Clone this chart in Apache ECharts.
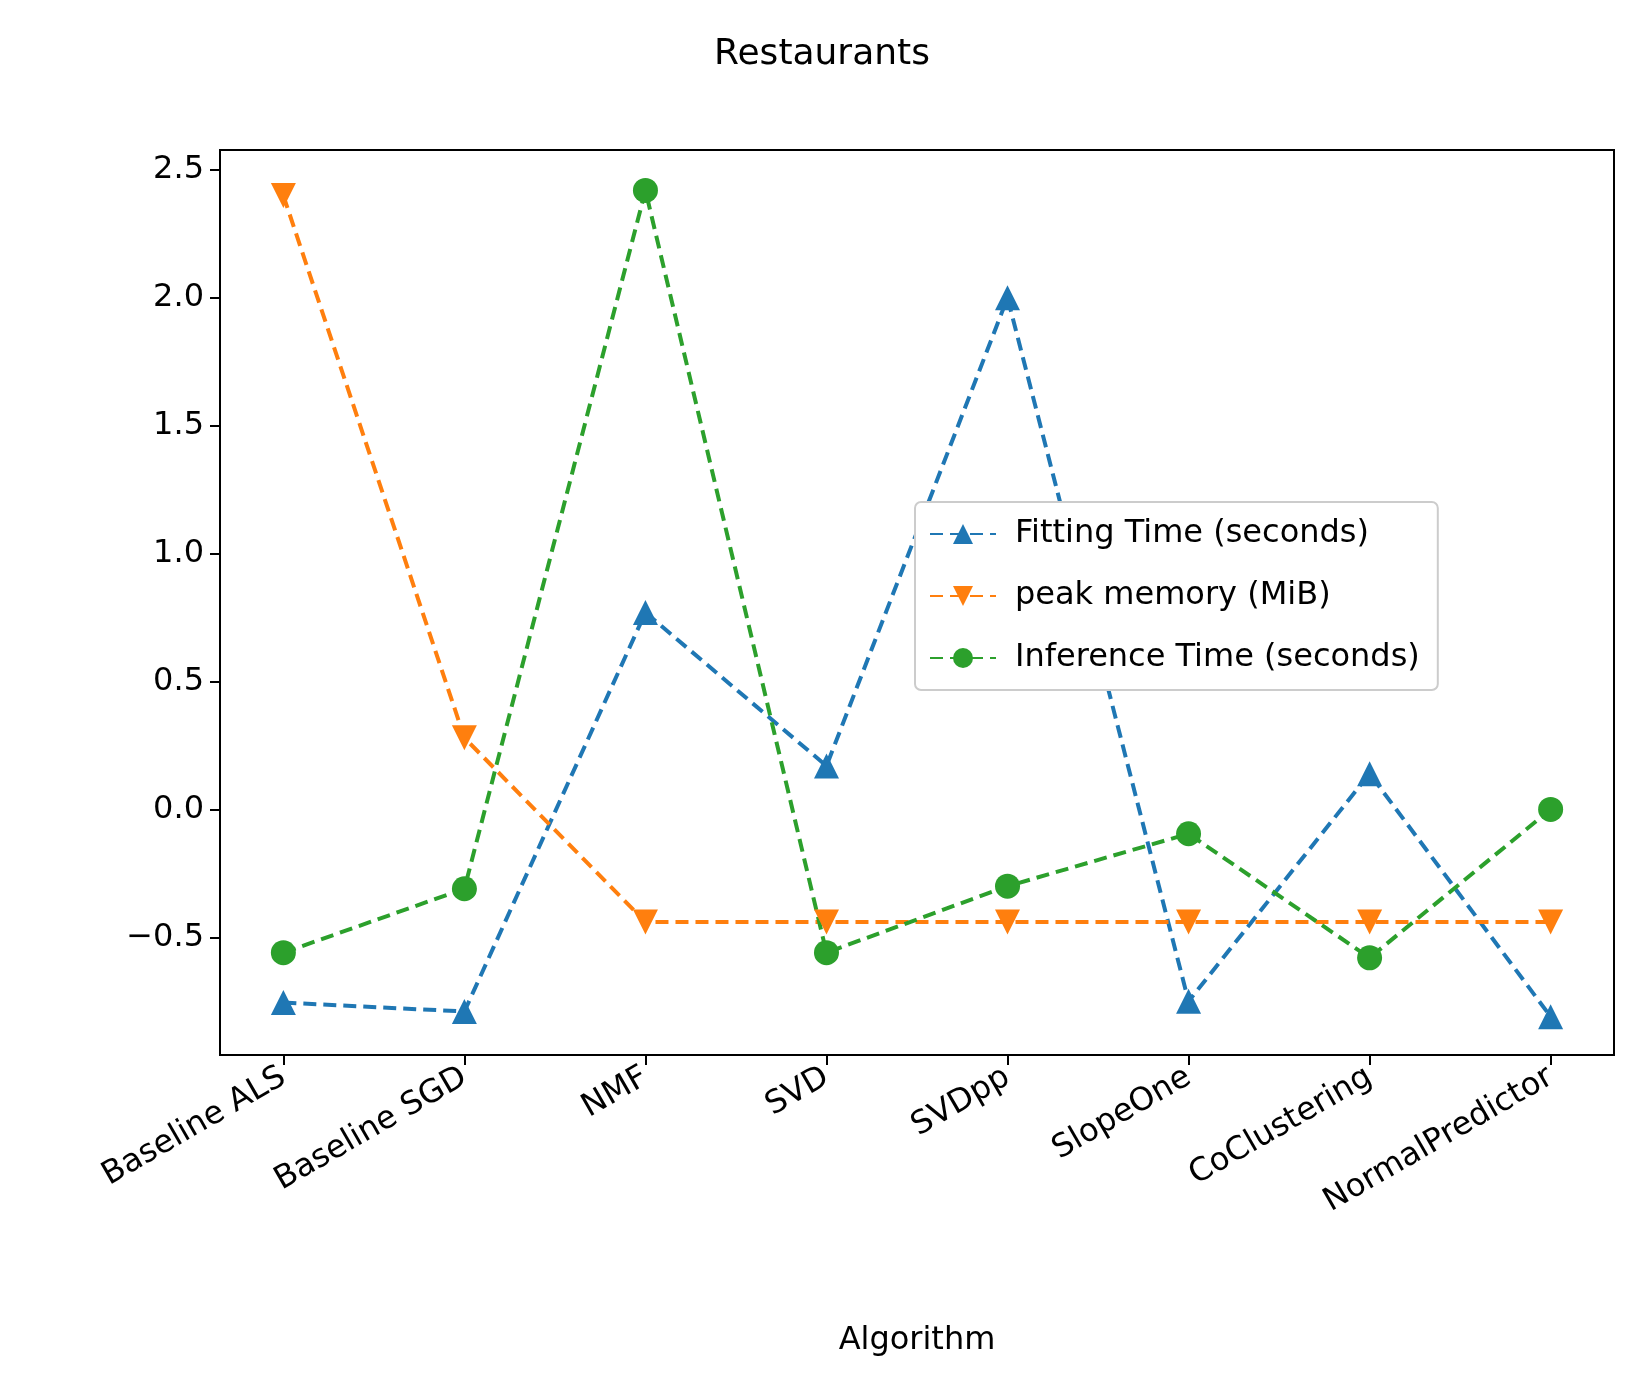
<!DOCTYPE html>
<html>
<head>
<meta charset="utf-8">
<script src="https://cdn.jsdelivr.net/npm/echarts@6/dist/echarts.min.js"></script>
<style>html,body{margin:0;background:#fff}#chart{width:1644px;height:1379px}</style>
</head>
<body>
<div id="chart"></div>
<script>
const categories = ['Baseline ALS', 'Baseline SGD', 'NMF', 'SVD', 'SVDpp', 'SlopeOne', 'CoClustering', 'NormalPredictor'];
const fittingTime = [-0.755, -0.79, 0.77, 0.17, 2.0, -0.75, 0.14, -0.81];
const peakMemory = [2.40, 0.28, -0.44, -0.44, -0.44, -0.44, -0.44, -0.44];
const inferenceTime = [-0.56, -0.31, 2.42, -0.56, -0.30, -0.095, -0.58, 0.0];
const yTicks = [-0.5, 0, 0.5, 1, 1.5, 2, 2.5];

const font = 'DejaVu Sans';
function pts(arr) { return arr.map((v, i) => [i, v]); }
function fmt(v) { return (v < 0 ? '\u2212' : '') + Math.abs(v).toFixed(1); }

function line(name, data, color, symbol, rotate) {
  return {
    name: name, type: 'line', data: pts(data),
    symbol: symbol, symbolSize: 25, symbolRotate: rotate,
    itemStyle: { color: color },
    lineStyle: { color: color, width: 4, type: [13, 7] },
    z: 3
  };
}

const chart = echarts.init(document.getElementById('chart'));
chart.setOption({
  animation: false,
  title: { text: 'Restaurants', left: 'center', top: 32,
    textStyle: { fontFamily: font, fontSize: 36, fontWeight: 'normal', color: '#000' } },
  grid: { left: 220, right: 30, top: 150, bottom: 324, show: true, borderColor: '#000', borderWidth: 2 },
  legend: {
    orient: 'vertical', left: 915, top: 502, itemGap: 30,
    itemWidth: 66, itemHeight: 25,
    padding: [16, 18, 16, 14],
    borderColor: '#ccc', borderWidth: 2, borderRadius: 6, backgroundColor: '#fff',
    textStyle: { fontFamily: font, fontSize: 32, color: '#000', padding: [0, 0, 0, 14] }
  },
  xAxis: {
    type: 'value', min: -0.35, max: 7.35,
    name: 'Algorithm', nameLocation: 'middle', nameGap: 270,
    nameTextStyle: { fontFamily: font, fontSize: 32, color: '#000' },
    axisLine: { onZero: false, lineStyle: { color: '#000', width: 2 } },
    axisTick: { customValues: [0,1,2,3,4,5,6,7], length: 10, lineStyle: { color: '#000', width: 2 } },
    axisLabel: { customValues: [0,1,2,3,4,5,6,7], rotate: 30, margin: 20,
      fontFamily: font, fontSize: 32, color: '#000',
      formatter: v => categories[Math.round(v)] },
    splitLine: { show: false }
  },
  yAxis: {
    type: 'value', min: -0.96, max: 2.578,
    axisLine: { show: true, onZero: false, lineStyle: { color: '#000', width: 2 } },
    axisTick: { show: true, customValues: yTicks, length: 10, lineStyle: { color: '#000', width: 2 } },
    axisLabel: { customValues: yTicks, margin: 16, fontFamily: font, fontSize: 32, color: '#000', formatter: fmt },
    splitLine: { show: false }
  },
  series: [
    line('Fitting Time (seconds)', fittingTime, '#1f77b4', 'triangle', 0),
    line('peak memory (MiB)', peakMemory, '#ff7f0e', 'triangle', 180),
    line('Inference Time (seconds)', inferenceTime, '#2ca02c', 'circle', 0)
  ]
});
</script>
</body>
</html>
